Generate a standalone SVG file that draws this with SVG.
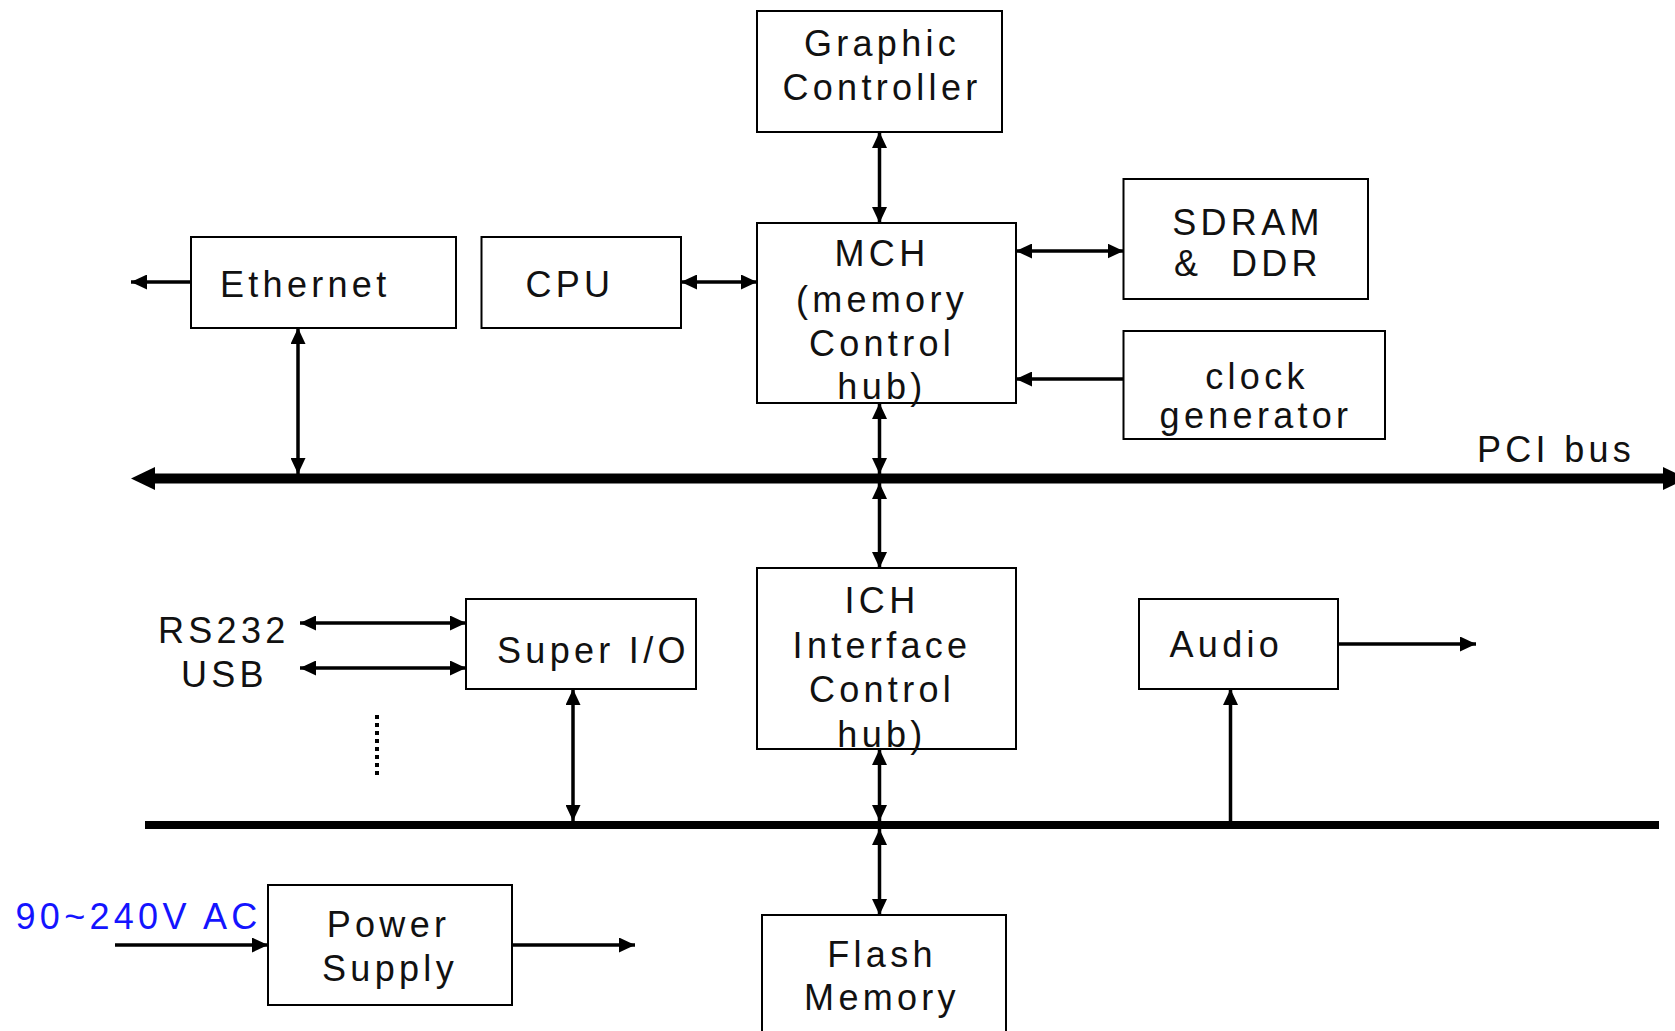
<svg xmlns="http://www.w3.org/2000/svg" width="1675" height="1031" viewBox="0 0 1675 1031">
<style>
.box{fill:#fff;stroke:#000;stroke-width:2}
.t{font-family:"Liberation Sans",Arial,sans-serif;font-size:36px;letter-spacing:4.3px;fill:#111}
.m{text-anchor:middle}
.c{fill:none;stroke:#000;stroke-width:3.5}
.bus{fill:none;stroke:#000}
</style>
<defs>
<marker id="ah" viewBox="0 0 16 15" refX="16" refY="7.5" markerWidth="16" markerHeight="15" markerUnits="userSpaceOnUse" orient="auto-start-reverse">
<path d="M0,0 L16,7.5 L0,15 z" fill="#000"/>
</marker>
</defs>
<rect width="1675" height="1031" fill="#fff"/>

<g id="connectors">
<line class="c" x1="879.5" y1="132" x2="879.5" y2="223" marker-start="url(#ah)" marker-end="url(#ah)"/>
<line class="c" x1="681" y1="282" x2="757" y2="282" marker-start="url(#ah)" marker-end="url(#ah)"/>
<line class="c" x1="191" y1="282" x2="131" y2="282" marker-end="url(#ah)"/>
<line class="c" x1="298" y1="328" x2="298" y2="474" marker-start="url(#ah)" marker-end="url(#ah)"/>
<line class="c" x1="1016" y1="251" x2="1123.5" y2="251" marker-start="url(#ah)" marker-end="url(#ah)"/>
<line class="c" x1="1123.5" y1="379" x2="1016" y2="379" marker-end="url(#ah)"/>
<line class="c" x1="879.5" y1="403" x2="879.5" y2="474" marker-start="url(#ah)" marker-end="url(#ah)"/>
<line class="c" x1="879.5" y1="483" x2="879.5" y2="568" marker-start="url(#ah)" marker-end="url(#ah)"/>
<line class="bus" x1="150" y1="478.5" x2="1668" y2="478.5" stroke-width="10"/>
<path d="M131,478.5 L155,467 L155,490 z" fill="#000"/>
<path d="M1687,478.5 L1663,467 L1663,490 z" fill="#000"/>
<line class="bus" x1="145" y1="825" x2="1659" y2="825" stroke-width="8"/>
<line class="c" x1="879.5" y1="749" x2="879.5" y2="821" marker-start="url(#ah)" marker-end="url(#ah)"/>
<line class="c" x1="879.5" y1="829" x2="879.5" y2="915" marker-start="url(#ah)" marker-end="url(#ah)"/>
<line class="c" x1="1230.5" y1="825" x2="1230.5" y2="689" marker-end="url(#ah)"/>
<line class="c" x1="1338" y1="644" x2="1476" y2="644" marker-end="url(#ah)"/>
<line class="c" x1="573" y1="689" x2="573" y2="821" marker-start="url(#ah)" marker-end="url(#ah)"/>
<line class="c" x1="300" y1="623" x2="466" y2="623" marker-start="url(#ah)" marker-end="url(#ah)"/>
<line class="c" x1="300" y1="668" x2="466" y2="668" marker-start="url(#ah)" marker-end="url(#ah)"/>
<line x1="377" y1="715" x2="377" y2="777" stroke="#000" stroke-width="4" stroke-dasharray="4 4"/>
<line class="c" x1="115" y1="945" x2="268" y2="945" marker-end="url(#ah)"/>
<line class="c" x1="512" y1="945" x2="635" y2="945" marker-end="url(#ah)"/>
</g>

<g id="graphic">
<rect class="box" x="757" y="11" width="245" height="121"/>
<text class="t m" x="882" y="56">Graphic</text>
<text class="t m" x="882" y="100">Controller</text>
</g>
<g id="mch">
<rect class="box" x="757" y="223" width="259" height="180"/>
<text class="t m" x="882" y="266">MCH</text>
<text class="t m" x="882" y="312">(memory</text>
<text class="t m" x="882" y="356">Control</text>
<text class="t m" x="882" y="399">hub)</text>
</g>
<g id="ethernet">
<rect class="box" x="191" y="237" width="265" height="91"/>
<text class="t" x="220" y="297">Ethernet</text>
</g>
<g id="cpu">
<rect class="box" x="481.5" y="237" width="199.5" height="91"/>
<text class="t" x="525.5" y="297">CPU</text>
</g>
<g id="sdram">
<rect class="box" x="1123.5" y="179" width="244.5" height="120"/>
<text class="t m" x="1248" y="235">SDRAM</text>
<text class="t m" x="1248" y="276">&amp; &#160;DDR</text>
</g>
<g id="clock">
<rect class="box" x="1123.5" y="331" width="261.5" height="108"/>
<text class="t m" x="1257" y="389">clock</text>
<text class="t m" x="1256" y="428">generator</text>
</g>
<g id="pcibus">
<text class="t" x="1477" y="462">PCI bus</text>
</g>
<g id="ich">
<rect class="box" x="757" y="568" width="259" height="181"/>
<text class="t m" x="882" y="613">ICH</text>
<text class="t m" x="882" y="658">Interface</text>
<text class="t m" x="882" y="702">Control</text>
<text class="t m" x="882" y="747">hub)</text>
</g>
<g id="audio">
<rect class="box" x="1139" y="599" width="199" height="90"/>
<text class="t" x="1169.5" y="657">Audio</text>
</g>
<g id="superio">
<rect class="box" x="466" y="599" width="230" height="90"/>
<text class="t" x="497" y="663">Super I/O</text>
</g>
<g id="ports">
<text class="t" x="158" y="643">RS232</text>
<text class="t" x="181" y="687">USB</text>
</g>
<g id="power">
<rect class="box" x="268" y="885" width="244" height="120"/>
<text class="t m" x="388.5" y="937">Power</text>
<text class="t m" x="390" y="981">Supply</text>
</g>
<g id="acinput">
<text class="t" x="15.5" y="929" style="fill:#1414ff">90~240V AC</text>
</g>
<g id="flash">
<rect class="box" x="762" y="915" width="244" height="130"/>
<text class="t m" x="882" y="967">Flash</text>
<text class="t m" x="882" y="1010">Memory</text>
</g>
</svg>
